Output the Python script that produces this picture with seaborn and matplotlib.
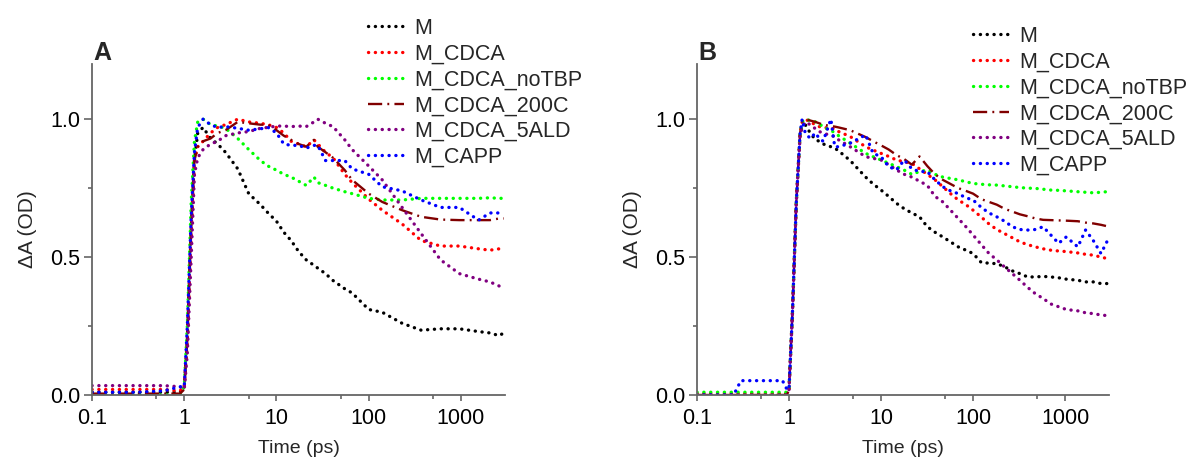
import matplotlib
matplotlib.use("Agg")
import matplotlib.pyplot as plt
import matplotlib.ticker as mticker
import seaborn as sns
import pandas as pd

# ---------------- data ----------------
labels = ["M", "M_CDCA", "M_CDCA_noTBP", "M_CDCA_200C", "M_CDCA_5ALD", "M_CAPP"]

t_A = [0.1, 0.3, 0.6, 0.9, 1.0, 1.08, 1.19, 1.29, 1.4, 1.6,
       1.93, 2.3, 2.8, 3.8, 5.0, 6.7, 8.1, 10, 12, 14.4,
       17.4, 21, 25.5, 28, 34, 41, 55, 66, 100, 140,
       230, 370, 600, 960, 1550, 2060, 2600, 2900]

M_A = [0.01, 0.01, 0.01, 0.01, 0.03, 0.2, 0.6, 0.85, 0.95, 0.97,
       0.93, 0.91, 0.88, 0.82, 0.73, 0.69, 0.66, 0.63, 0.59, 0.56,
       0.52, 0.49, 0.47, 0.46, 0.44, 0.415, 0.385, 0.37, 0.31, 0.30,
       0.26, 0.235, 0.24, 0.24, 0.23, 0.225, 0.215, 0.225]
CDCA_A = [0.02, 0.02, 0.02, 0.015, 0.03, 0.2, 0.6, 0.85, 0.9, 0.92,
          0.95, 0.97, 0.98, 1.0, 0.99, 0.985, 0.98, 0.97, 0.95, 0.92,
          0.91, 0.9, 0.925, 0.91, 0.88, 0.86, 0.80, 0.77, 0.71, 0.67,
          0.62, 0.56, 0.54, 0.54, 0.53, 0.525, 0.53, 0.537]
noTBP_A = [0.0, 0.0, 0.0, 0.0, 0.03, 0.25, 0.7, 0.92, 0.99, 1.0,
           0.98, 0.975, 0.967, 0.93, 0.89, 0.85, 0.83, 0.815, 0.8, 0.79,
           0.775, 0.76, 0.79, 0.77, 0.76, 0.75, 0.737, 0.73, 0.713, 0.707,
           0.707, 0.713, 0.713, 0.713, 0.713, 0.715, 0.713, 0.713]
C200_A = [0.005, 0.005, 0.005, 0.005, 0.02, 0.2, 0.6, 0.85, 0.9, 0.92,
          0.93, 0.95, 0.96, 0.99, 0.985, 0.98, 0.98, 0.96, 0.94, 0.925,
          0.91, 0.9, 0.925, 0.9, 0.88, 0.86, 0.815, 0.78, 0.73, 0.70,
          0.67, 0.646, 0.636, 0.634, 0.634, 0.634, 0.64, 0.64]
ALD_A = [0.034, 0.034, 0.034, 0.03, 0.02, 0.15, 0.5, 0.8, 0.86, 0.89,
         0.91, 0.92, 0.94, 0.95, 0.955, 0.967, 0.97, 0.975, 0.975, 0.973,
         0.975, 0.973, 0.99, 1.0, 0.985, 0.973, 0.925, 0.89, 0.83, 0.78,
         0.68, 0.585, 0.49, 0.44, 0.42, 0.41, 0.395, 0.39]
CAPP_A = [0.01, 0.01, 0.015, 0.03, 0.03, 0.25, 0.65, 0.88, 0.97, 1.0,
          0.98, 0.97, 0.973, 0.967, 0.96, 0.965, 0.97, 0.95, 0.91, 0.905,
          0.905, 0.895, 0.905, 0.905, 0.85, 0.85, 0.85, 0.82, 0.80, 0.755,
          0.74, 0.707, 0.68, 0.68, 0.634, 0.66, 0.66, 0.665]

t_B = [0.1, 0.25, 0.3, 0.6, 0.85, 0.95, 1.0, 1.09, 1.2, 1.32,
       1.39, 1.5, 1.7, 1.94, 2.13, 2.35, 2.85, 3.14, 3.46, 4.62,
       6.8, 8.2, 10, 12.1, 14.7, 17.9, 21.6, 26.2, 31.8, 38.6,
       46.9, 56.9, 69, 83.6, 100, 123, 149, 181, 220, 267,
       323, 392, 476, 577, 700, 850, 1030, 1375, 1670, 2024,
       2454, 2840]

M_B = [0, 0, 0, 0, 0, 0.005, 0.02, 0.3, 0.7, 0.95,
       0.97, 0.98, 0.95, 0.925, 0.92, 0.91, 0.9, 0.895, 0.885, 0.85,
       0.79, 0.765, 0.743, 0.72, 0.695, 0.675, 0.66, 0.646, 0.61, 0.59,
       0.573, 0.555, 0.537, 0.525, 0.513, 0.48, 0.478, 0.476, 0.465, 0.45,
       0.44, 0.428, 0.428, 0.43, 0.428, 0.425, 0.42, 0.416, 0.41, 0.41,
       0.404, 0.404]
CDCA_B = [0.005, 0.005, 0.005, 0.005, 0.005, 0.005, 0.02, 0.3, 0.7, 0.95,
          0.99, 1.0, 0.99, 0.98, 0.973, 0.97, 0.967, 0.965, 0.955, 0.937,
          0.9, 0.888, 0.876, 0.865, 0.852, 0.845, 0.84, 0.82, 0.80, 0.78,
          0.755, 0.73, 0.707, 0.69, 0.67, 0.645, 0.62, 0.60, 0.585, 0.57,
          0.555, 0.545, 0.537, 0.53, 0.525, 0.522, 0.52, 0.515, 0.51, 0.507,
          0.5, 0.495]
noTBP_B = [0.01, 0.01, 0.01, 0.01, 0.01, 0.01, 0.02, 0.3, 0.7, 0.95,
           0.99, 1.0, 0.995, 0.99, 0.985, 0.97, 0.96, 0.95, 0.94, 0.913,
           0.876, 0.864, 0.852, 0.84, 0.828, 0.815, 0.80, 0.81, 0.816, 0.80,
           0.79, 0.785, 0.78, 0.773, 0.767, 0.764, 0.762, 0.761, 0.758, 0.755,
           0.752, 0.75, 0.749, 0.746, 0.743, 0.742, 0.74, 0.737, 0.735, 0.733,
           0.735, 0.737]
C200_B = [0, 0, 0, 0, 0, 0, 0.02, 0.3, 0.7, 0.95,
          0.99, 1.0, 0.995, 0.99, 0.985, 0.98, 0.975, 0.973, 0.97, 0.96,
          0.935, 0.92, 0.905, 0.89, 0.87, 0.855, 0.835, 0.865, 0.83, 0.80,
          0.78, 0.765, 0.75, 0.74, 0.73, 0.71, 0.70, 0.69, 0.675, 0.665,
          0.655, 0.648, 0.64, 0.635, 0.634, 0.633, 0.632, 0.63, 0.625, 0.622,
          0.617, 0.612]
ALD_B = [0, 0, 0, 0, 0, 0, 0.02, 0.3, 0.7, 0.94,
         0.97, 0.99, 0.98, 0.965, 0.955, 0.95, 0.94, 0.937, 0.925, 0.9,
         0.864, 0.858, 0.852, 0.835, 0.816, 0.80, 0.79, 0.775, 0.76, 0.72,
         0.70, 0.67, 0.64, 0.61, 0.58, 0.545, 0.513, 0.49, 0.464, 0.44,
         0.416, 0.39, 0.367, 0.35, 0.33, 0.32, 0.31, 0.305, 0.298, 0.295,
         0.29, 0.288]
CAPP_B = [0, 0, 0.052, 0.052, 0.052, 0.02, 0.02, 0.3, 0.7, 0.95,
          1.0, 0.95, 0.93, 0.95, 0.93, 0.92, 1.0, 0.9, 0.9, 0.913,
          0.943, 0.876, 0.864, 0.828, 0.816, 0.852, 0.82, 0.81, 0.81, 0.78,
          0.755, 0.74, 0.73, 0.715, 0.707, 0.68, 0.66, 0.646, 0.63, 0.61,
          0.6, 0.598, 0.6, 0.61, 0.58, 0.55, 0.573, 0.537, 0.598, 0.56,
          0.513, 0.555]

x_ticks = [0.1, 1, 10, 100, 1000]
x_tick_labels = ["0.1", "1", "10", "100", "1000"]
y_ticks = [0.0, 0.5, 1.0]
y_tick_labels = ["0.0", "0.5", "1.0"]

# ---------------- style ----------------
colors = ["#000000", "#FF0000", "#00FF00", "#800000", "#800080", "#0000FF"]
dotted = (0, (0.05, 2.0))
dashdot = (0, (6, 2.2, 0.8, 2.2))
styles = [dotted, dotted, dotted, dashdot, dotted, dotted]
widths = [2.4, 2.4, 2.4, 1.7, 2.4, 2.4]

sns.set_theme(style="ticks")
plt.rcParams["font.family"] = ["Liberation Sans", "DejaVu Sans"]
plt.rcParams["axes.edgecolor"] = "#666666"
plt.rcParams["xtick.color"] = "#666666"
plt.rcParams["ytick.color"] = "#666666"
plt.rcParams["xtick.labelcolor"] = "black"
plt.rcParams["ytick.labelcolor"] = "black"

W, H = 1189, 461
fig = plt.figure(figsize=(W / 100, H / 100), dpi=100)

panels = [
    ("A", t_A, [M_A, CDCA_A, noTBP_A, C200_A, ALD_A, CAPP_A], 92, 505, 368, 18),
    ("B", t_B, [M_B, CDCA_B, noTBP_B, C200_B, ALD_B, CAPP_B], 697, 1109, 973, 26),
]

for name, t, series, left, right, leg_x, leg_top in panels:
    ax = fig.add_axes([left / W, 66 / H, (right - left) / W, (395 - 64) / H])
    for lab, ys, c, ls, lw in zip(labels, series, colors, styles, widths):
        df = pd.DataFrame({"t": t, "v": ys})
        sns.lineplot(data=df, x="t", y="v", ax=ax, color=c, linestyle=ls,
                     linewidth=lw, dash_capstyle="round" if ls is dotted else "butt",
                     label=lab, legend=False)
    ax.set_xscale("log")
    ax.set_xlim(0.1, 3000)
    ax.set_ylim(0, 1.2)
    ax.xaxis.set_major_locator(mticker.FixedLocator(x_ticks))
    ax.xaxis.set_major_formatter(mticker.FixedFormatter(x_tick_labels))
    ax.xaxis.set_minor_locator(mticker.LogLocator(base=10, subs=[5]))
    ax.xaxis.set_minor_formatter(mticker.NullFormatter())
    ax.yaxis.set_major_locator(mticker.FixedLocator(y_ticks))
    ax.yaxis.set_major_formatter(mticker.FixedFormatter(y_tick_labels))
    ax.yaxis.set_minor_locator(mticker.MultipleLocator(0.25))
    ax.tick_params(axis="both", which="major", labelsize=15.5, width=1.2)
    ax.tick_params(axis="x", which="major", length=4)
    ax.tick_params(axis="y", which="major", length=5.5)
    ax.tick_params(axis="both", which="minor", length=3, width=1.2)
    ax.tick_params(axis="x", which="both", pad=5)
    ax.tick_params(axis="y", which="both", pad=3)
    for s in ["top", "right"]:
        ax.spines[s].set_visible(False)
    for s in ["left", "bottom"]:
        ax.spines[s].set_linewidth(1.3)
    ax.set_xlabel("Time (ps)", fontsize=14, labelpad=8)
    ax.set_ylabel("ΔA (OD)", fontsize=15, labelpad=9)
    ax.patch.set_alpha(0)
    handles, labs = ax.get_legend_handles_labels()
    ax.legend(handles, labs, loc="upper left",
              bbox_to_anchor=(leg_x / W, 1 - leg_top / H),
              bbox_transform=fig.transFigure, frameon=False,
              fontsize=15.5, handlelength=1.65, handletextpad=0.5,
              labelspacing=0.22, borderpad=0, borderaxespad=0)
    fig.text((left + 1) / W, 1 - 60 / H, name, fontsize=18, fontweight="bold",
             va="baseline", ha="left")

fig.savefig("out.png", dpi=100)
